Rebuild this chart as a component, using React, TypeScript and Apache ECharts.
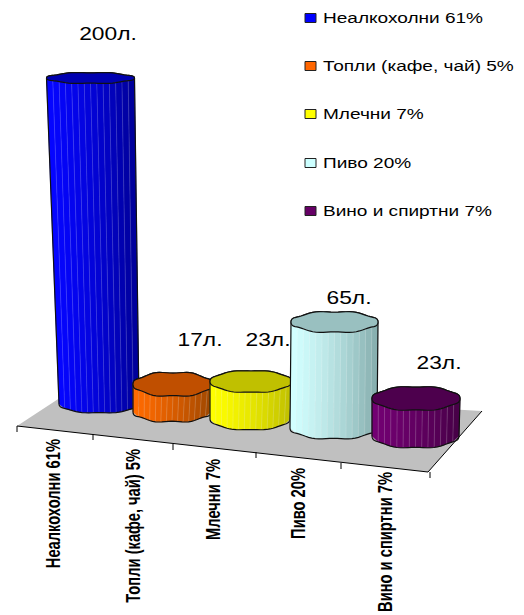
import React, { useEffect, useRef } from "react";
import * as echarts from "echarts";

// Daily drink volumes, litres
const categories = ["Неалкохолни 61%", "Топли (кафе, чай) 5%", "Млечни 7%", "Пиво 20%", "Вино и спиртни 7%"];
const litres = [200, 17, 23, 65, 23];
const legendColors = ["#0000ff", "#ff6600", "#ffff00", "#ccffff", "#660066"];

// Shading of each cylinder: [body light, body dark, lid]
const shades = [
  ["#0505ff", "#00009c", "#0000b0"],
  ["#ff6a00", "#a04800", "#c04f00"],
  ["#ffff00", "#c2c200", "#c0c000"],
  ["#d2ffff", "#88b0b0", "#99c0c0"],
  ["#720072", "#480048", "#4d004d"],
];

// Oblique projection of the floor: how far each cylinder deviates from its band
const solids = [
  { topDx: 0.5, botDx: 9, drop: 0, topRx: 44, botRx: 40, topRy: 5.5, botRy: 9, lump: 0.4 },
  { topDx: 3, botDx: 2, drop: 8, topRx: 40, botRx: 39, topRy: 12, botRy: 10, lump: 0.8 },
  { topDx: 1, botDx: 0, drop: 15, topRx: 41, botRx: 40, topRy: 11, botRy: 11, lump: 0.5 },
  { topDx: 4.5, botDx: 3.5, drop: 24, topRx: 43.5, botRx: 43.5, topRy: 10.5, botRy: 11, lump: 0.7 },
  { topDx: 6, botDx: 5.5, drop: 32, topRx: 44, botRx: 43.5, topRy: 12, botRy: 12, lump: 0.6 },
];
const labelSpots = [
  { x: 108, y: 33 },
  { x: 200, y: 339 },
  { x: 268, y: 339 },
  { x: 349, y: 297 },
  { x: 439, y: 362 },
];
const axisLabelSpots = [
  { x: 53, y: 439 },
  { x: 133, y: 449 },
  { x: 213, y: 459 },
  { x: 298, y: 468 },
  { x: 385, y: 472 },
];
const legendRows = [18, 66, 114, 163, 211];
const floorCorners = [[17, 426], [428, 472], [482, 411], [75, 388]];
const tickFeet = [[17, 426], [93, 434], [173, 444], [256, 452], [341, 463], [430, 472]];

const FONT = '"Liberation Sans", Arial, sans-serif';
const STRIPS = 14;

function mix(a: string, b: string, t: number) {
  const ch = (h: string, i: number) => parseInt(h.slice(1 + i * 2, 3 + i * 2), 16);
  const out = [0, 1, 2].map((i) => Math.round(ch(a, i) + (ch(b, i) - ch(a, i)) * t));
  return `rgb(${out[0]},${out[1]},${out[2]})`;
}

// A point on the slightly lumpy rim of a cylinder
function rim(cx: number, cy: number, rx: number, ry: number, theta: number, lump: number) {
  return [cx + rx * Math.cos(theta), cy + ry * Math.sin(theta) + lump * Math.sin(theta * 7)];
}

function drawCylinder(index: number, api: any) {
  const value = api.value(1);
  const s = solids[index];
  const [bandX, topY] = api.coord([index, value]);
  const [, baseY] = api.coord([index, 0]);
  const tx = bandX + s.topDx;
  const bx = bandX + s.botDx;
  const ty = topY + s.drop;
  const by = baseY + s.drop;
  const [light, dark, lid] = shades[index];
  const upper = (a: number) => rim(tx, ty, s.topRx, s.topRy, a, s.lump);
  const lower = (a: number) => rim(bx, by, s.botRx, s.botRy, a, s.lump);
  const children: any[] = [];

  children.push({
    type: "text",
    x: labelSpots[index].x,
    y: labelSpots[index].y,
    scaleX: 1.2,
    style: { text: `${value}л.`, font: `19px ${FONT}`, fill: "#000", align: "center", verticalAlign: "middle" },
  });

  // Facets are evenly wide on screen, not evenly spaced around the circle
  const front = (k: number) => Math.acos(1 - (2 * k) / STRIPS);
  for (let k = 0; k < STRIPS; k++) {
    const a = Math.PI - front(k);
    const b = Math.PI - front(k + 1);
    const t = k / (STRIPS - 1);
    const fill = mix(light, dark, t * t * 0.4 + t * 0.6);
    children.push({
      type: "polygon",
      shape: { points: [upper(a), upper(b), lower(b), lower(a)] },
      style: { fill, stroke: fill, lineWidth: 0.5 },
    });
    if (k > 0) {
      const p = upper(a);
      const q = lower(a);
      children.push({
        type: "line",
        shape: { x1: p[0], y1: p[1], x2: q[0], y2: q[1] },
        style: { stroke: "rgba(255,255,255,0.17)", lineWidth: 1 },
      });
    }
  }

  const outline: number[][] = [];
  for (let k = 0; k <= 36; k++) outline.push(lower((Math.PI * k) / 36));
  for (let k = 0; k <= 36; k++) outline.push(upper(Math.PI + (Math.PI * k) / 36));
  children.push({
    type: "polygon",
    shape: { points: outline },
    style: { fill: "none", stroke: "#111", lineWidth: 1.2 },
  });

  const lidPts: number[][] = [];
  for (let k = 0; k < 72; k++) lidPts.push(upper((Math.PI * 2 * k) / 72));
  children.push({
    type: "polygon",
    shape: { points: lidPts },
    style: { fill: lid, stroke: "#111", lineWidth: 1.2 },
  });

  children.push({
    type: "text",
    x: axisLabelSpots[index].x,
    y: axisLabelSpots[index].y,
    rotation: Math.PI / 2,
    scaleX: 1.05,
    scaleY: 1.4,
    style: {
      text: categories[index],
      font: `bold 14px ${FONT}`,
      fill: "#000",
      align: "right",
      verticalAlign: "middle",
    },
  });

  return { type: "group", children };
}

function drawFloor() {
  const children: any[] = [
    {
      type: "polygon",
      shape: { points: floorCorners },
      style: { fill: "#c0c0c0", stroke: "none" },
    },
    {
      type: "polyline",
      shape: { points: [floorCorners[2], floorCorners[1], floorCorners[0]] },
      style: { fill: "none", stroke: "#000", lineWidth: 1 },
    },
  ];
  tickFeet.forEach(([x, y]) => {
    children.push({
      type: "line",
      shape: { x1: x, y1: y, x2: x, y2: y + 6 },
      style: { stroke: "#000", lineWidth: 1 },
    });
  });
  return { type: "group", children };
}

// Key on the right: the type is stretched sideways, which the legend component cannot do
const legendGraphics = categories.flatMap((name, i) => [
  {
    type: "rect",
    shape: { x: 305, y: legendRows[i] - 4.5, width: 11, height: 9 },
    style: { fill: legendColors[i], stroke: "#222", lineWidth: 1 },
  },
  {
    type: "text",
    x: 323,
    y: legendRows[i],
    scaleX: 1.36,
    style: { text: name, font: `14px ${FONT}`, fill: "#000", align: "left", verticalAlign: "middle" },
  },
]);

export default function App() {
  const ref = useRef<HTMLDivElement>(null);

  useEffect(() => {
    const chart = echarts.init(ref.current!, undefined, { renderer: "svg" });
    chart.setOption({
      animation: false,
      backgroundColor: "#fff",
      grid: { left: 50, top: 78, width: 400, height: 326 },
      xAxis: { type: "category", data: categories, show: false },
      yAxis: { type: "value", min: 0, max: 200, show: false },
      graphic: legendGraphics,
      series: [
        {
          type: "custom",
          name: "floor",
          silent: true,
          clip: false,
          data: [[0, 0]],
          renderItem: () => drawFloor(),
        },
        ...categories.map((name, i) => ({
          type: "custom",
          name,
          silent: true,
          clip: false,
          data: [[i, litres[i]]],
          encode: { x: 0, y: 1 },
          renderItem: (_: any, api: any) => drawCylinder(i, api),
        })),
      ],
    });
    return () => chart.dispose();
  }, []);

  return <div ref={ref} style={{ position: "absolute", left: 0, top: 0, width: 524, height: 615 }} />;
}
